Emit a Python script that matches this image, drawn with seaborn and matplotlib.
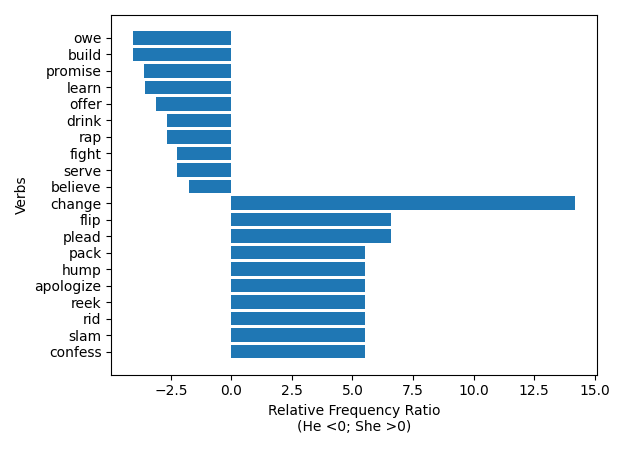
import matplotlib
matplotlib.use("Agg")
import matplotlib.pyplot as plt
import seaborn as sns
import pandas as pd

verbs = ["owe", "build", "promise", "learn", "offer", "drink", "rap", "fight", "serve", "believe",
         "change", "flip", "plead", "pack", "hump", "apologize", "reek", "rid", "slam", "confess"]
ratios = [-4.05, -4.05, -3.6, -3.57, -3.12, -2.68, -2.68, -2.23, -2.23, -1.75,
          14.2, 6.6, 6.6, 5.5, 5.5, 5.5, 5.5, 5.5, 5.5, 5.5]

df = pd.DataFrame({"verb": verbs, "ratio": ratios})

fig, ax = plt.subplots(figsize=(6.25, 4.49), dpi=100)
sns.barplot(data=df, x="ratio", y="verb", orient="h", color="#1f77b4",
            saturation=1, width=0.8, ax=ax)
# matplotlib-style margins instead of seaborn's tight categorical limits
n = len(verbs)
pad = 0.05 * (n - 0.2)
ax.set_ylim(n - 0.6 + pad, -0.4 - pad)
ax.set_xlabel("Relative Frequency Ratio\n(He <0; She >0)")
ax.set_ylabel("Verbs")
plt.tight_layout()
plt.savefig("out.png")
